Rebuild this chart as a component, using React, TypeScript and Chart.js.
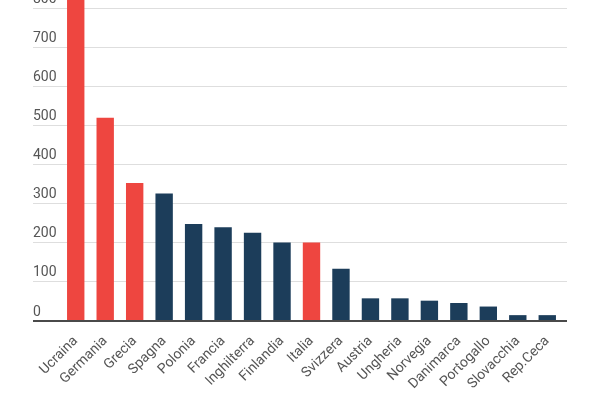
import { useEffect, useRef } from 'react';
import { Chart, registerables } from 'chart.js';

Chart.register(...registerables);

const countries = [
  'Ucraina', 'Germania', 'Grecia', 'Spagna', 'Polonia', 'Francia', 'Inghilterra',
  'Finlandia', 'Italia', 'Svizzera', 'Austria', 'Ungheria', 'Norvegia', 'Danimarca',
  'Portogallo', 'Slovacchia', 'Rep.Ceca',
];
const values = [850, 520, 353, 326, 248, 240, 226, 201, 201, 134, 58, 58, 52, 46, 37, 15, 15];
// countries highlighted in red
const highlighted = ['Ucraina', 'Germania', 'Grecia', 'Italia'];
const yTicks = [0, 100, 200, 300, 400, 500, 600, 700, 800];

const RED = '#ee4640';
const NAVY = '#1c3d5a';
const GRID = '#dedede';
const BASE = '#4a4a4a';

export default function App() {
  const canvasRef = useRef<HTMLCanvasElement>(null);

  useEffect(() => {
    document.body.style.margin = '0';
    if (!canvasRef.current) return;

    const gridColor = (ctx: any) => (ctx.tick && ctx.tick.value === 0 ? BASE : GRID);
    const gridWidth = (ctx: any) => (ctx.tick && ctx.tick.value === 0 ? 2 : 1);
    const keepTicks = (scale: any) => {
      scale.ticks = yTicks.map((v) => ({ value: v }));
    };

    const chart = new Chart(canvasRef.current, {
      type: 'bar',
      data: {
        labels: countries,
        datasets: [{
          data: values,
          backgroundColor: countries.map((c) => (highlighted.includes(c) ? RED : NAVY)),
          borderWidth: 0,
          barPercentage: 0.59,
          categoryPercentage: 1,
          clip: false,
        }],
      },
      options: {
        animation: false,
        responsive: true,
        maintainAspectRatio: false,
        layout: { padding: { left: 33, right: 33, top: 8, bottom: 0 } },
        plugins: {
          legend: { display: false },
          tooltip: { enabled: false },
        },
        scales: {
          x: {
            grid: { display: false },
            border: { display: false },
            ticks: {
              maxRotation: 45,
              minRotation: 45,
              autoSkip: false,
              padding: 4,
              color: '#555',
              font: { family: 'Roboto', size: 14 },
            },
            afterFit: (scale: any) => { scale.height = 79; },
          },
          y: {
            position: 'left',
            min: 0,
            max: 800,
            afterBuildTicks: keepTicks,
            grid: { color: gridColor, lineWidth: gridWidth, drawTicks: true, tickLength: 28 },
            border: { display: false },
            ticks: {
              crossAlign: 'far',
              padding: 0,
              labelOffset: -9,
              color: '#555',
              font: { family: 'Roboto', size: 14 },
            },
            afterFit: (scale: any) => { scale.width = 28; },
          },
          y2: {
            position: 'right',
            min: 0,
            max: 800,
            afterBuildTicks: keepTicks,
            grid: { color: gridColor, lineWidth: gridWidth, drawOnChartArea: false, drawTicks: true, tickLength: 5 },
            border: { display: false },
            ticks: { display: false },
            afterFit: (scale: any) => { scale.width = 5; },
          },
        },
      },
    } as any);

    return () => chart.destroy();
  }, []);

  return (
    <div style={{ position: 'relative', width: 600, height: 400, background: '#fff' }}>
      <canvas ref={canvasRef} />
    </div>
  );
}
